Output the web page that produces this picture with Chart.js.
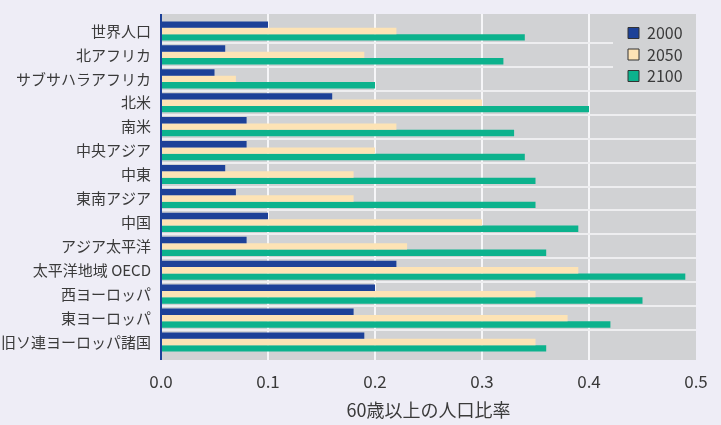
<!DOCTYPE html>
<html><head><meta charset="utf-8">
<script src="https://cdn.jsdelivr.net/npm/chart.js@4/dist/chart.umd.min.js"></script>
<style>
html,body{margin:0;padding:0;background:#eeedf6;}
#wrap{width:721px;height:425px;position:relative;}
canvas{display:block;}
</style></head><body>
<div id="wrap"><canvas id="c" width="721" height="425"></canvas></div>
<script>
const categories = ['世界人口','北アフリカ','サブサハラアフリカ','北米','南米','中央アジア','中東','東南アジア','中国','アジア太平洋','太平洋地域 OECD','西ヨーロッパ','東ヨーロッパ','旧ソ連ヨーロッパ諸国'];
const seriesNames = ['2000','2050','2100'];
const values2000 = [0.10,0.06,0.05,0.16,0.08,0.08,0.06,0.07,0.10,0.08,0.22,0.20,0.18,0.19];
const values2050 = [0.22,0.19,0.07,0.30,0.22,0.20,0.18,0.18,0.30,0.23,0.39,0.35,0.38,0.35];
const values2100 = [0.34,0.32,0.20,0.40,0.33,0.34,0.35,0.35,0.39,0.36,0.49,0.45,0.42,0.36];
const xTicks = [0,0.1,0.2,0.3,0.4,0.5];
const xTitle = '60歳以上の人口比率';

const COLORS = ['#1d4198','#fde3b5','#0cb28d'];
const TEXT = '#3a3a3a';
Chart.defaults.font.family = "'Noto Sans CJK JP','Noto Sans',sans-serif";
Chart.defaults.color = TEXT;

const LEG_W = 83, LEG_H = 72;

const bgPlugin = {
  id: 'bg',
  afterLayout(chart) {
    const a = chart.chartArea, lg = chart.legend;
    if (lg) {
      lg.left = a.right - 73.5; lg.right = a.right;
      lg.top = a.top + 0.5; lg.bottom = a.top + LEG_H;
    }
  },
  beforeDraw(chart) {
    const {ctx, chartArea: a, scales} = chart;
    const top = a.top - 5, bottom = a.bottom + 6;
    ctx.save();
    ctx.fillStyle = '#d1d2d4';
    ctx.fillRect(a.left, top, a.right - a.left, bottom - top);
    ctx.strokeStyle = '#f6f6f8';
    ctx.lineWidth = 2;
    scales.x.ticks.forEach(t => {
      const x = Math.round(scales.x.getPixelForValue(t.value));
      if (x > a.left + 3 && x < a.right - 3) {
        ctx.beginPath(); ctx.moveTo(x, top); ctx.lineTo(x, bottom); ctx.stroke();
      }
    });
    const ys = scales.y;
    ctx.strokeStyle = '#eeeef0';
    for (let i = 1; i < categories.length; i++) {
      const py = Math.round((ys.getPixelForTick(i - 1) + ys.getPixelForTick(i)) / 2);
      const xr = py < top + LEG_H + 5 ? a.right - LEG_W : a.right;
      ctx.beginPath(); ctx.moveTo(a.left, py); ctx.lineTo(xr, py); ctx.stroke();
    }
    ctx.restore();
  },
  afterDatasetsDraw(chart) {
    const {ctx, chartArea: a} = chart;
    ctx.save();
    ctx.fillStyle = '#1d4198';
    ctx.fillRect(a.left - 1, a.top - 5, 2, a.bottom - a.top + 11);
    ctx.restore();
  }
};

new Chart(document.getElementById('c'), {
  type: 'bar',
  data: {
    labels: categories,
    datasets: [values2000, values2050, values2100].map((d, i) => ({
      label: seriesNames[i], data: d, backgroundColor: COLORS[i], borderWidth: 0,
      categoryPercentage: 0.8, barPercentage: 1.0
    }))
  },
  options: {
    indexAxis: 'y',
    responsive: false,
    devicePixelRatio: 1,
    animation: false,
    layout: { padding: { left: 0, right: 25, top: 13, bottom: 0 } },
    plugins: {
      tooltip: { enabled: false },
      legend: {
        position: 'chartArea', align: 'start',
        labels: {
          boxWidth: 11, boxHeight: 11, padding: 5.5, color: TEXT,
          font: { size: 16 },
          generateLabels(chart) {
            const items = Chart.defaults.plugins.legend.labels.generateLabels(chart);
            items.forEach(it => { it.strokeStyle = '#333'; it.lineWidth = 1; });
            return items;
          }
        }
      }
    },
    scales: {
      x: {
        type: 'linear', min: 0, max: 0.5,
        afterBuildTicks(s) { s.ticks = xTicks.map(v => ({ value: v })); },
        afterFit(s) { s.height = 71; s.paddingRight = 0; s.paddingLeft = 0; },
        grid: { display: false, drawTicks: false },
        border: { display: false },
        ticks: { autoSkip: false, maxRotation: 0, padding: 17, font: { size: 17 }, color: TEXT,
          callback: (v) => Number(v).toFixed(1) },
        title: { display: true, text: xTitle, font: { size: 18 }, color: TEXT, padding: { top: 0, bottom: 4 } }
      },
      y: {
        afterFit(s) { s.width = 161; },
        grid: { display: false, drawTicks: false },
        border: { display: false },
        ticks: { padding: 10, font: { size: 15 }, color: TEXT, autoSkip: false }
      }
    }
  },
  plugins: [bgPlugin]
});
</script>
</body></html>
